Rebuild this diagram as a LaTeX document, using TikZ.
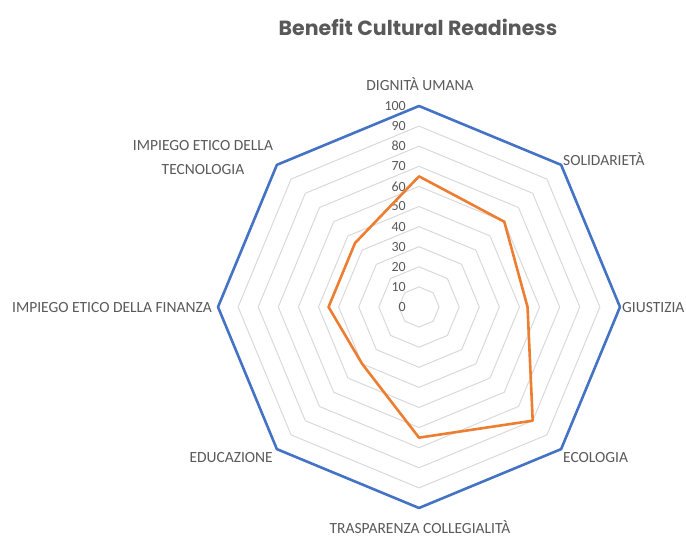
\documentclass[tikz,border=0pt]{standalone}
\usepackage{fontspec}
\setmainfont{Carlito}
\newfontfamily\titlefont{Poppins}
\usetikzlibrary{positioning,calc}
\usepackage{xcolor}
\definecolor{gridgray}{RGB}{217,217,217}
\definecolor{textgray}{RGB}{89,89,89}
\definecolor{seriesblue}{RGB}{68,114,196}
\definecolor{seriesorange}{RGB}{237,125,49}

\begin{document}
\begin{tikzpicture}[x=1pt, y=1pt]
    \tikzstyle{axislabel} = [font=\fontsize{15.5}{24}\selectfont, text=textgray, inner sep=0pt]
    \tikzstyle{ticklabel} = [font=\fontsize{14}{16}\selectfont, text=textgray, anchor=east, inner sep=0pt]
    \tikzstyle{ring} = [draw=gridgray, line width=1pt]
    \useasboundingbox (-419,-230) rectangle (267,307);

    % Titolo
    \node[font=\titlefont\bfseries\fontsize{20.5}{24}\selectfont, text=textgray] (title) at (-1,280) {Benefit Cultural Readiness};

    % Griglia
    \foreach \r in {10,20,...,90}
        \draw[ring] (90:{\r*2.01}) \foreach \a in {45,0,-45,-90,-135,-180,-225} {-- (\a:{\r*2.01})} -- cycle;

    % Scala
    \foreach \v in {0,10,...,100}
        \node[ticklabel] (t\v) at (-13,{\v*2.01}) {\v};

    % Vertici degli assi
    \coordinate (dig) at (90:201);
    \coordinate (sol) at (45:201);
    \coordinate (giu) at (0:201);
    \coordinate (eco) at (-45:201);
    \coordinate (tra) at (-90:201);
    \coordinate (edu) at (-135:201);
    \coordinate (fin) at (180:201);
    \coordinate (tec) at (135:201);

    % Valori
    \coordinate (vdig) at (90:{65*2.01});
    \coordinate (vsol) at (45:{60*2.01});
    \coordinate (vgiu) at (0:{54*2.01});
    \coordinate (veco) at (-45:{80*2.01});
    \coordinate (vtra) at (-90:{65*2.01});
    \coordinate (vedu) at (-135:{40*2.01});
    \coordinate (vfin) at (180:{45*2.01});
    \coordinate (vtec) at (135:{45*2.01});

    % Serie
    \draw[seriesblue, line width=2.6pt, line join=round] (dig) -- (sol) -- (giu) -- (eco) -- (tra) -- (edu) -- (fin) -- (tec) -- cycle;
    \draw[seriesorange, line width=2.6pt, line join=round] (vdig) -- (vsol) -- (vgiu) -- (veco) -- (vtra) -- (vedu) -- (vfin) -- (vtec) -- cycle;

    % Etichette
    \node[axislabel] (ldig) at (1,223) {DIGNITÀ UMANA};
    \node[axislabel, anchor=west] (lsol) at (144,148) {SOLIDARIETÀ};
    \node[axislabel, anchor=west] (lgiu) at (203,-1) {GIUSTIZIA};
    \node[axislabel, anchor=west] (leco) at (144,-151) {ECOLOGIA};
    \node[axislabel] (ltra) at (1,-220) {TRASPARENZA COLLEGIALITÀ};
    \node[axislabel, anchor=east] (ledu) at (-146,-151) {EDUCAZIONE};
    \node[axislabel, anchor=east] (lfin) at (-207,-1) {IMPIEGO ETICO DELLA FINANZA};
    \node[axislabel, align=center] (ltec) at (-216,149) {IMPIEGO ETICO DELLA\\TECNOLOGIA};
\end{tikzpicture}
\end{document}
